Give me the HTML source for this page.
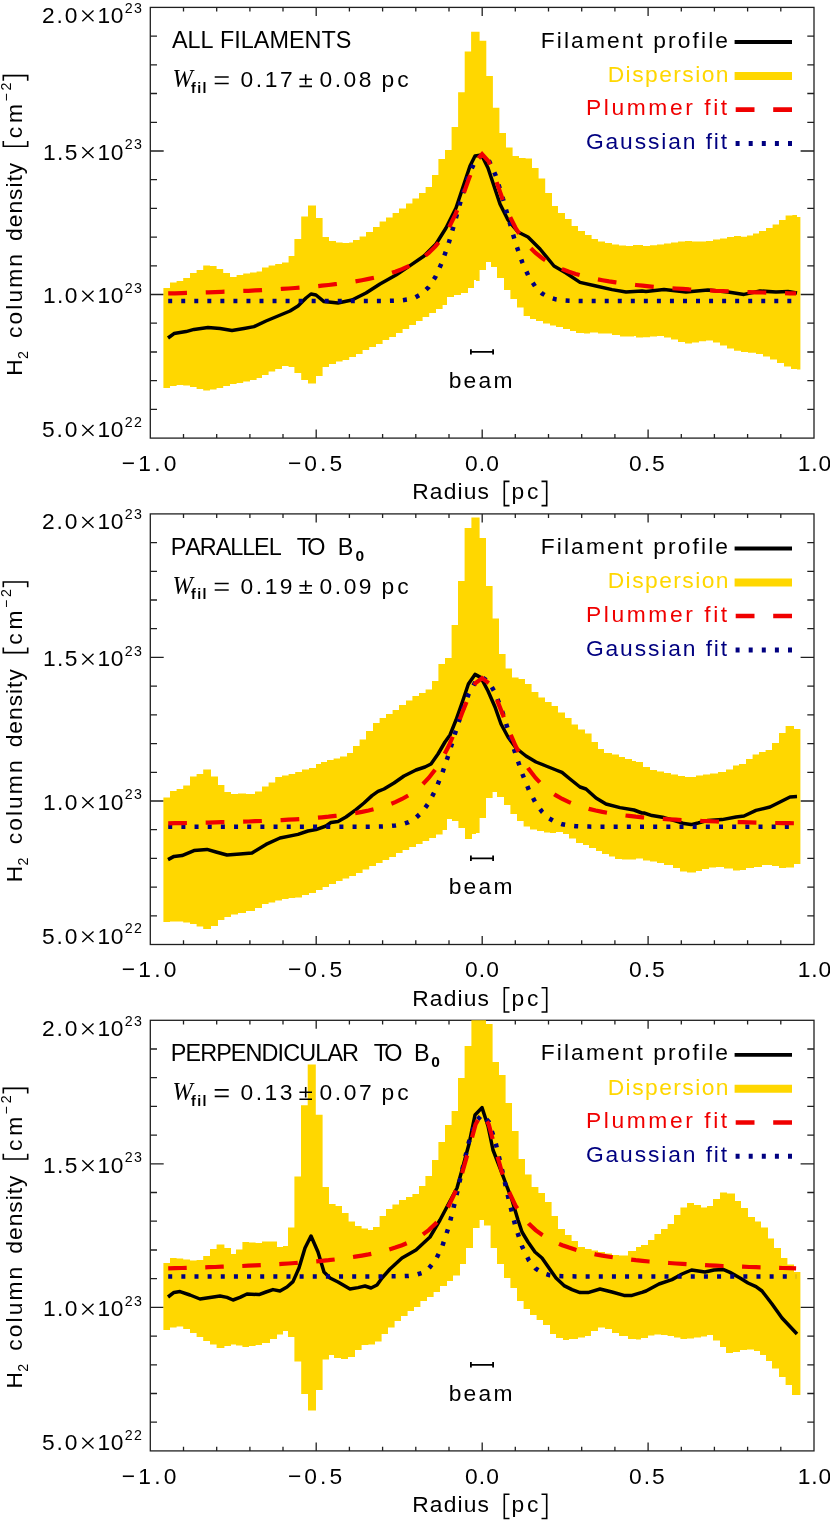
<!DOCTYPE html>
<html><head><meta charset="utf-8"><title>Filament profiles</title>
<style>
html,body{margin:0;padding:0;background:#fff;}
svg{display:block;will-change:transform;}
text{font-family:"Liberation Sans",sans-serif;font-kerning:none;}
.it{font-family:"Liberation Serif",serif;font-style:italic;}
</style></head>
<body>
<svg width="830" height="1521" viewBox="0 0 830 1521">
<rect x="0" y="0" width="830" height="1521" fill="#ffffff"/>
<!-- panel 1 -->
<clipPath id="cp0"><rect x="150.3" y="7.4" width="663.7" height="430.70000000000005"/></clipPath>
<g stroke="#202020" stroke-width="1.3" fill="none">
<rect x="150.3" y="7.4" width="663.7" height="430.70000000000005"/>
<path d="M183.5 438.1v-4.2M183.5 7.4v4.2 M216.7 438.1v-4.2M216.7 7.4v4.2 M249.9 438.1v-4.2M249.9 7.4v4.2 M283.0 438.1v-4.2M283.0 7.4v4.2 M316.2 438.1v-8.5M316.2 7.4v8.5 M349.4 438.1v-4.2M349.4 7.4v4.2 M382.6 438.1v-4.2M382.6 7.4v4.2 M415.8 438.1v-4.2M415.8 7.4v4.2 M449.0 438.1v-4.2M449.0 7.4v4.2 M482.2 438.1v-8.5M482.2 7.4v8.5 M515.3 438.1v-4.2M515.3 7.4v4.2 M548.5 438.1v-4.2M548.5 7.4v4.2 M581.7 438.1v-4.2M581.7 7.4v4.2 M614.9 438.1v-4.2M614.9 7.4v4.2 M648.1 438.1v-8.5M648.1 7.4v8.5 M681.3 438.1v-4.2M681.3 7.4v4.2 M714.4 438.1v-4.2M714.4 7.4v4.2 M747.6 438.1v-4.2M747.6 7.4v4.2 M780.8 438.1v-4.2M780.8 7.4v4.2 M150.3 409.4h6.7M814.0 409.4h-6.7 M150.3 380.7h6.7M814.0 380.7h-6.7 M150.3 352.0h6.7M814.0 352.0h-6.7 M150.3 323.2h6.7M814.0 323.2h-6.7 M150.3 294.5h13.4M814.0 294.5h-13.4 M150.3 265.8h6.7M814.0 265.8h-6.7 M150.3 237.1h6.7M814.0 237.1h-6.7 M150.3 208.4h6.7M814.0 208.4h-6.7 M150.3 179.7h6.7M814.0 179.7h-6.7 M150.3 151.0h13.4M814.0 151.0h-13.4 M150.3 122.3h6.7M814.0 122.3h-6.7 M150.3 93.5h6.7M814.0 93.5h-6.7 M150.3 64.8h6.7M814.0 64.8h-6.7 M150.3 36.1h6.7M814.0 36.1h-6.7"/>
</g>
<g clip-path="url(#cp0)">
<path d="M163.4 288.0 H170.0 V282.4 H176.6 V281.0 H183.2 V278.0 H190.0 V273.0 H196.6 V270.0 H203.2 V265.4 H210.0 V266.0 H216.6 V269.0 H223.2 V273.0 H230.0 V277.0 H236.6 V275.0 H243.2 V273.6 H250.0 V272.4 H256.6 V271.6 H262.0 V267.6 H268.6 V265.6 H275.2 V264.0 H282.0 V262.4 H288.6 V256.0 H294.4 V239.0 H301.2 V216.6 H308.0 V205.6 H316.0 V218.0 H322.6 V237.0 H329.0 V241.0 H336.0 V242.4 H342.6 V243.0 H349.2 V242.4 H353.0 V240.0 H359.6 V236.4 H366.0 V232.0 H373.0 V227.0 H379.6 V221.6 H386.0 V217.6 H392.6 V213.0 H399.0 V208.4 H406.0 V203.6 H412.4 V198.4 H419.0 V193.0 H425.6 V187.0 H432.0 V175.0 H438.4 V159.0 H445.0 V150.0 H451.6 V127.0 H458.1 V92.2 H464.7 V51.5 H471.1 V31.7 H479.6 V40.7 H486.3 V75.9 H492.9 V107.7 H499.4 V133.0 H506.0 V147.6 H512.6 V156.0 H519.0 V158.0 H525.6 V158.4 H532.0 V168.0 H538.6 V178.4 H545.2 V193.0 H552.0 V206.0 H558.0 V213.0 H565.0 V219.0 H571.6 V226.0 H578.0 V231.0 H585.0 V235.0 H591.6 V239.0 H598.0 V241.6 H605.0 V243.0 H612.0 V244.4 H619.0 V245.6 H626.0 V246.0 H633.0 V245.0 H636.0 V245.0 H643.0 V246.0 H650.0 V245.2 H657.0 V244.4 H664.0 V243.6 H671.0 V242.6 H678.0 V241.6 H685.0 V241.0 H692.0 V241.6 H699.0 V241.4 H706.0 V241.0 H713.0 V239.6 H720.0 V238.4 H727.0 V237.0 H734.0 V236.0 H741.0 V236.8 H747.0 V235.6 H753.0 V233.6 H759.0 V231.0 H766.0 V228.0 H772.6 V224.4 H779.0 V220.0 H785.6 V215.6 H792.4 V215.0 H797.0 V217.0 H800.4 V369.6 H797.0 V369.0 H791.0 V366.4 H784.0 V363.0 H777.0 V359.6 H770.0 V356.4 H763.0 V354.0 H756.0 V352.8 H748.0 V352.0 H741.0 V350.8 H734.0 V348.4 H727.0 V345.6 H720.0 V342.4 H713.0 V340.4 H706.0 V341.2 H699.0 V342.4 H692.0 V343.6 H685.0 V342.0 H678.0 V339.6 H671.0 V337.6 H664.0 V336.0 H657.0 V336.4 H650.0 V337.2 H643.0 V337.4 H636.0 V336.0 H634.0 V336.4 H620.0 V335.0 H612.0 V333.6 H598.0 V332.4 H590.0 V333.6 H584.0 V333.0 H576.0 V331.0 H570.0 V329.0 H563.0 V327.0 H556.0 V325.6 H550.0 V323.6 H543.0 V321.0 H536.0 V319.0 H530.0 V316.0 H523.6 V307.6 H517.0 V299.0 H510.4 V290.0 H504.0 V278.0 H497.0 V267.0 H491.0 V262.0 H486.0 V270.0 H479.6 V281.0 H476.0 V280.0 H474.0 V288.0 H468.0 V293.0 H461.0 V295.0 H454.0 V297.0 H447.0 V305.0 H442.6 V309.0 H436.0 V313.0 H429.2 V317.0 H422.6 V321.0 H416.0 V325.0 H409.2 V329.0 H402.6 V333.0 H396.0 V337.0 H389.2 V340.0 H382.6 V344.0 H376.0 V347.0 H369.2 V350.0 H362.6 V354.0 H356.0 V357.0 H349.2 V360.0 H342.6 V361.6 H336.0 V364.0 H329.0 V367.0 H322.6 V376.0 H316.0 V383.6 H308.0 V380.0 H301.2 V373.0 H294.4 V367.0 H288.6 V366.0 H282.0 V369.0 H275.2 V371.6 H268.6 V375.0 H262.0 V378.0 H256.6 V380.0 H250.0 V381.6 H243.2 V383.0 H236.6 V384.0 H230.0 V386.0 H223.2 V388.0 H216.6 V389.6 H210.0 V390.4 H203.2 V389.0 H196.6 V387.0 H190.0 V385.6 H183.2 V385.0 H176.6 V386.0 H170.0 V388.0 H163.4 Z" fill="#FFD700" stroke="none"/>
<polyline points="168.0,338.0 174.0,333.6 186.0,331.6 194.0,329.4 208.0,327.6 220.0,328.4 232.0,330.4 244.0,328.4 254.0,326.6 266.0,321.0 278.0,316.0 290.0,311.0 298.0,306.0 306.0,298.0 311.0,294.0 316.0,295.0 324.0,301.6 338.0,303.0 352.0,300.0 366.0,293.0 380.0,284.0 396.0,275.0 410.0,265.6 424.0,256.0 436.0,244.0 446.0,228.0 456.0,208.0 464.0,184.0 470.0,166.0 475.0,156.0 481.6,155.0 488.0,168.0 494.0,186.0 500.0,204.0 508.0,220.0 518.0,232.0 528.0,237.0 540.0,249.0 554.0,266.0 566.0,273.0 580.0,282.4 596.0,286.0 612.0,289.6 626.0,292.0 642.0,291.0 646.0,291.6 664.0,289.6 686.0,292.0 708.0,290.0 728.0,292.0 744.0,294.4 760.0,291.0 776.0,292.0 788.0,291.4 797.0,293.0" fill="none" stroke="#000" stroke-width="3.5" stroke-linejoin="round"/>
<polyline points="168.2,301.0 174.9,301.0 181.6,301.0 188.3,301.0 194.9,301.0 201.6,301.0 208.3,301.0 215.0,301.0 221.7,301.0 228.3,301.0 235.0,301.0 241.7,301.0 248.4,301.0 255.1,301.0 261.7,301.0 268.4,301.0 275.1,301.0 281.8,301.0 288.4,301.0 295.1,301.0 301.8,301.0 308.5,301.0 315.2,301.0 321.8,301.0 328.5,301.0 335.2,301.0 341.9,301.0 348.6,301.0 355.2,301.0 361.9,301.0 368.6,301.0 375.3,301.0 382.0,301.0 388.6,300.9 395.3,300.7 402.0,300.3 408.7,299.3 415.4,297.3 422.0,293.6 428.7,287.1 435.4,276.9 442.1,262.1 448.8,242.8 455.4,219.9 462.1,196.1 468.8,175.0 475.5,160.3 482.1,155.0 488.8,160.3 495.5,175.0 502.2,196.1 508.9,219.9 515.5,242.8 522.2,262.1 528.9,276.9 535.6,287.1 542.3,293.6 548.9,297.3 555.6,299.3 562.3,300.3 569.0,300.7 575.7,300.9 582.3,301.0 589.0,301.0 595.7,301.0 602.4,301.0 609.1,301.0 615.7,301.0 622.4,301.0 629.1,301.0 635.8,301.0 642.5,301.0 649.1,301.0 655.8,301.0 662.5,301.0 669.2,301.0 675.9,301.0 682.5,301.0 689.2,301.0 695.9,301.0 702.6,301.0 709.2,301.0 715.9,301.0 722.6,301.0 729.3,301.0 736.0,301.0 742.6,301.0 749.3,301.0 756.0,301.0 762.7,301.0 769.4,301.0 776.0,301.0 782.7,301.0 789.4,301.0 796.1,301.0" fill="none" stroke="#000080" stroke-width="4.5" stroke-dasharray="3.983 9.060"/>
<polyline points="168.2,293.4 174.9,293.3 181.6,293.1 188.3,292.9 194.9,292.7 201.6,292.5 208.3,292.3 215.0,292.1 221.7,291.8 228.3,291.6 235.0,291.3 241.7,291.0 248.4,290.8 255.1,290.4 261.7,290.1 268.4,289.7 275.1,289.4 281.8,288.9 288.4,288.5 295.1,288.0 301.8,287.5 308.5,287.0 315.2,286.4 321.8,285.7 328.5,285.0 335.2,284.2 341.9,283.4 348.6,282.4 355.2,281.4 361.9,280.2 368.6,278.9 375.3,277.5 382.0,275.8 388.6,273.9 395.3,271.7 402.0,269.1 408.7,266.1 415.4,262.5 422.0,258.2 428.7,252.9 435.4,246.4 442.1,238.2 448.8,227.8 455.4,214.5 462.1,198.0 468.8,179.0 475.5,161.6 482.1,154.1 488.8,161.6 495.5,179.0 502.2,198.0 508.9,214.5 515.5,227.8 522.2,238.2 528.9,246.4 535.6,252.9 542.3,258.2 548.9,262.5 555.6,266.1 562.3,269.1 569.0,271.7 575.7,273.9 582.3,275.8 589.0,277.5 595.7,278.9 602.4,280.2 609.1,281.4 615.7,282.4 622.4,283.4 629.1,284.2 635.8,285.0 642.5,285.7 649.1,286.4 655.8,287.0 662.5,287.5 669.2,288.0 675.9,288.5 682.5,288.9 689.2,289.4 695.9,289.7 702.6,290.1 709.2,290.4 715.9,290.8 722.6,291.0 729.3,291.3 736.0,291.6 742.6,291.8 749.3,292.1 756.0,292.3 762.7,292.5 769.4,292.7 776.0,292.9 782.7,293.1 789.4,293.3 796.1,293.4" fill="none" stroke="#F00000" stroke-width="4.2" stroke-dasharray="18.780 18.780"/>
</g>
<path d="M470.8 351.9H493.2M470.9 349.2v5.4M493.1 349.2v5.4" stroke="#000" stroke-width="1.8" fill="none"/>
<text x="448.7" y="387.8" font-size="22.8" fill="#000" letter-spacing="2.23">beam</text>
<text x="41.9" y="22.9" font-size="22.8" fill="#000" letter-spacing="1.88">2.0</text>
<path d="M82.3 10.6L93.5 21.3M93.5 10.6L82.3 21.3" stroke="#000" stroke-width="1.35" fill="none"/>
<text x="97.6" y="22.9" font-size="22.8" fill="#000" letter-spacing="0.37">10</text>
<text x="124.7" y="12.6" font-size="14.2" fill="#000" letter-spacing="1.40">23</text>
<text x="43.1" y="159.6" font-size="22.8" fill="#000" letter-spacing="1.33">1.5</text>
<path d="M82.3 147.3L93.5 158.0M93.5 147.3L82.3 158.0" stroke="#000" stroke-width="1.35" fill="none"/>
<text x="97.6" y="159.6" font-size="22.8" fill="#000" letter-spacing="0.37">10</text>
<text x="124.7" y="149.3" font-size="14.2" fill="#000" letter-spacing="1.40">23</text>
<text x="43.1" y="303.1" font-size="22.8" fill="#000" letter-spacing="1.27">1.0</text>
<path d="M82.3 290.8L93.5 301.5M93.5 290.8L82.3 301.5" stroke="#000" stroke-width="1.35" fill="none"/>
<text x="97.6" y="303.1" font-size="22.8" fill="#000" letter-spacing="0.37">10</text>
<text x="124.7" y="292.8" font-size="14.2" fill="#000" letter-spacing="1.40">23</text>
<text x="42.1" y="437.3" font-size="22.8" fill="#000" letter-spacing="1.77">5.0</text>
<path d="M82.3 425.0L93.5 435.7M93.5 425.0L82.3 435.7" stroke="#000" stroke-width="1.35" fill="none"/>
<text x="97.6" y="437.3" font-size="22.8" fill="#000" letter-spacing="0.37">10</text>
<text x="124.7" y="427.0" font-size="14.2" fill="#000" letter-spacing="1.54">22</text>
<text x="121.8" y="470.9" font-size="22.8" fill="#000" letter-spacing="3.22">−1.0</text>
<text x="287.9" y="470.9" font-size="22.8" fill="#000" letter-spacing="3.09">−0.5</text>
<text x="465.1" y="470.9" font-size="22.8" fill="#000" letter-spacing="1.02">0.0</text>
<text x="629.1" y="470.9" font-size="22.8" fill="#000" letter-spacing="1.98">0.5</text>
<text x="797.8" y="470.9" font-size="22.8" fill="#000" letter-spacing="0.82">1.0</text>
<text x="412.2" y="499.4" font-size="22.8" fill="#000" letter-spacing="1.15">Radius</text>
<text x="511.6" y="499.4" font-size="22.8" fill="#000" letter-spacing="2.67">pc</text>
<path d="M509.5 481.4H504.3V505.6H509.5M541.5 481.4H546.7V505.6H541.5" stroke="#000" stroke-width="1.6" fill="none"/>
<g transform="translate(21.9 224.2) rotate(-90)">
<text x="-151.6" y="0.0" font-size="22.8" fill="#000">H</text>
<text x="-134.8" y="6.5" font-size="14.2" fill="#000">2</text>
<text x="-113.7" y="0.0" font-size="22.8" fill="#000" letter-spacing="2.08">column</text>
<text x="-16.7" y="0.0" font-size="22.8" fill="#000" letter-spacing="0.98">density</text>
<text x="85.9" y="0.0" font-size="22.8" fill="#000" letter-spacing="3.86">cm</text>
<text x="122.6" y="-10.6" font-size="14.2" fill="#000" letter-spacing="2.75">−2</text>
<path d="M83.2 -18.6H78.0V5.8H83.2M143.4 -18.6H148.6V5.8H143.4" stroke="#000" stroke-width="1.6" fill="none"/>
</g>
<text x="171.9" y="48.2" font-size="23.400000000000002" fill="#000">ALL FILAMENTS</text>
<text x="172.4" y="87.4" font-size="24.3" fill="#000" class="it">W</text>
<text x="191.1" y="92.8" font-size="14.2" fill="#000" letter-spacing="1.33" font-weight="bold">fil</text>
<path d="M214.7 77.0h14M214.7 83.5h14" stroke="#000" stroke-width="1.7" fill="none"/>
<text x="240.6" y="87.4" font-size="22.8" fill="#000" letter-spacing="2.57">0.17</text>
<path d="M299.4 79.3h12.6M305.7 74.2v10.4M299.4 86.4h12.6" stroke="#000" stroke-width="1.6" fill="none"/>
<text x="319.5" y="87.4" font-size="22.8" fill="#000" letter-spacing="2.52">0.08</text>
<text x="381.5" y="87.4" font-size="22.8" fill="#000" letter-spacing="2.97">pc</text>
<text x="540.8" y="47.5" font-size="22.8" fill="#000" letter-spacing="2.09">Filament profile</text>
<text x="607.7" y="81.6" font-size="22.8" fill="#FFD700" letter-spacing="1.46">Dispersion</text>
<text x="586.0" y="115.3" font-size="22.8" fill="#F00000" letter-spacing="2.59">Plummer fit</text>
<text x="585.9" y="149.0" font-size="22.8" fill="#000080" letter-spacing="1.90">Gaussian fit</text>
<path d="M734.6 42.0H792" stroke="#000" stroke-width="3.8" fill="none"/>
<path d="M734.6 76.0H792" stroke="#FFD700" stroke-width="8" fill="none"/>
<path d="M735.7 109.6H792" stroke="#F00000" stroke-width="4.6" stroke-dasharray="18.8 18.7" fill="none"/>
<path d="M735.6 143.4H792" stroke="#000080" stroke-width="5" stroke-dasharray="4 9.1" fill="none"/>
<!-- panel 2 -->
<clipPath id="cp1"><rect x="150.3" y="513.9" width="663.7" height="430.6"/></clipPath>
<g stroke="#202020" stroke-width="1.3" fill="none">
<rect x="150.3" y="513.9" width="663.7" height="430.6"/>
<path d="M183.5 944.5v-4.2M183.5 513.9v4.2 M216.7 944.5v-4.2M216.7 513.9v4.2 M249.9 944.5v-4.2M249.9 513.9v4.2 M283.0 944.5v-4.2M283.0 513.9v4.2 M316.2 944.5v-8.5M316.2 513.9v8.5 M349.4 944.5v-4.2M349.4 513.9v4.2 M382.6 944.5v-4.2M382.6 513.9v4.2 M415.8 944.5v-4.2M415.8 513.9v4.2 M449.0 944.5v-4.2M449.0 513.9v4.2 M482.2 944.5v-8.5M482.2 513.9v8.5 M515.3 944.5v-4.2M515.3 513.9v4.2 M548.5 944.5v-4.2M548.5 513.9v4.2 M581.7 944.5v-4.2M581.7 513.9v4.2 M614.9 944.5v-4.2M614.9 513.9v4.2 M648.1 944.5v-8.5M648.1 513.9v8.5 M681.3 944.5v-4.2M681.3 513.9v4.2 M714.4 944.5v-4.2M714.4 513.9v4.2 M747.6 944.5v-4.2M747.6 513.9v4.2 M780.8 944.5v-4.2M780.8 513.9v4.2 M150.3 915.8h6.7M814.0 915.8h-6.7 M150.3 887.1h6.7M814.0 887.1h-6.7 M150.3 858.4h6.7M814.0 858.4h-6.7 M150.3 829.7h6.7M814.0 829.7h-6.7 M150.3 801.0h13.4M814.0 801.0h-13.4 M150.3 772.3h6.7M814.0 772.3h-6.7 M150.3 743.6h6.7M814.0 743.6h-6.7 M150.3 714.8h6.7M814.0 714.8h-6.7 M150.3 686.1h6.7M814.0 686.1h-6.7 M150.3 657.4h13.4M814.0 657.4h-13.4 M150.3 628.7h6.7M814.0 628.7h-6.7 M150.3 600.0h6.7M814.0 600.0h-6.7 M150.3 571.3h6.7M814.0 571.3h-6.7 M150.3 542.6h6.7M814.0 542.6h-6.7"/>
</g>
<g clip-path="url(#cp1)">
<path d="M163.4 797.6 H170.0 V791.0 H176.6 V789.0 H183.2 V785.6 H190.0 V776.4 H196.6 V774.0 H203.2 V769.6 H211.0 V776.4 H218.0 V785.0 H224.4 V792.0 H231.0 V794.0 H238.0 V793.4 H246.0 V794.0 H255.0 V791.6 H262.0 V786.4 H268.6 V782.4 H275.2 V777.0 H282.0 V775.6 H288.6 V774.0 H295.2 V772.0 H302.0 V769.6 H309.0 V768.0 H316.0 V764.0 H321.0 V762.0 H327.0 V760.0 H333.6 V758.6 H340.0 V756.6 H347.0 V753.0 H353.0 V746.0 H359.6 V739.4 H366.0 V731.0 H373.0 V723.0 H379.6 V718.0 H386.0 V714.0 H392.6 V710.0 H399.0 V705.0 H406.0 V700.6 H412.4 V696.0 H419.0 V693.0 H425.6 V689.4 H432.0 V681.0 H438.4 V664.0 H445.0 V658.0 H451.6 V625.0 H458.0 V581.0 H464.6 V528.0 H471.4 V517.4 H479.6 V538.0 H486.0 V586.0 H492.6 V618.6 H499.0 V654.0 H505.6 V668.6 H512.0 V677.4 H518.6 V679.0 H525.0 V684.0 H531.6 V692.0 H538.4 V697.4 H545.0 V702.0 H551.6 V706.0 H558.0 V712.4 H565.0 V718.0 H571.6 V724.4 H578.0 V729.6 H585.0 V733.6 H591.6 V742.0 H598.0 V749.0 H604.0 V753.0 H612.0 V754.4 H619.0 V757.0 H625.0 V759.0 H632.0 V761.0 H636.0 V762.0 H643.0 V767.0 H650.0 V770.0 H657.0 V771.6 H664.0 V773.0 H671.0 V774.4 H678.0 V776.0 H685.0 V777.0 H696.0 V775.6 H703.0 V774.4 H710.0 V773.6 H718.0 V772.0 H726.0 V769.6 H733.0 V765.6 H739.0 V764.0 H746.0 V759.0 H752.6 V754.4 H759.0 V752.0 H765.6 V750.0 H772.0 V743.0 H779.0 V733.0 H785.6 V726.0 H794.0 V729.0 H800.4 V864.0 H794.0 V867.6 H786.0 V868.0 H779.0 V866.0 H772.0 V865.0 H762.0 V867.0 H754.0 V868.0 H746.0 V870.0 H740.0 V870.4 H733.0 V868.4 H724.0 V867.0 H716.0 V867.6 H709.0 V869.0 H702.0 V871.0 H696.0 V872.4 H687.0 V871.6 H680.0 V868.0 H673.0 V865.0 H664.0 V863.0 H657.0 V861.6 H650.0 V860.4 H643.0 V858.4 H636.0 V859.6 H622.0 V859.0 H615.0 V856.4 H609.0 V854.0 H602.0 V851.0 H596.0 V848.0 H589.0 V845.0 H583.0 V843.0 H576.0 V838.4 H569.0 V834.0 H563.0 V832.0 H556.0 V833.0 H550.0 V832.4 H544.0 V831.0 H537.0 V829.6 H530.0 V826.4 H523.6 V821.0 H517.0 V814.0 H510.4 V805.0 H504.0 V797.0 H497.0 V792.0 H492.6 V798.0 H486.0 V818.0 H479.6 V833.0 H476.0 V834.0 H472.0 V839.0 H465.0 V828.0 H458.4 V821.0 H452.0 V819.0 H447.0 V830.0 H442.6 V834.4 H436.0 V838.0 H429.2 V841.0 H422.6 V844.0 H416.0 V847.0 H409.2 V850.0 H402.6 V853.0 H396.0 V857.0 H389.2 V860.0 H382.6 V863.0 H376.0 V866.0 H369.2 V869.6 H362.6 V873.0 H356.0 V876.0 H349.2 V878.4 H342.6 V881.0 H336.0 V884.0 H329.0 V887.0 H322.6 V890.0 H316.0 V893.0 H309.0 V895.0 H302.0 V897.6 H295.2 V898.0 H288.6 V899.0 H282.0 V900.4 H275.2 V902.4 H268.6 V904.0 H262.0 V908.0 H255.0 V911.0 H246.0 V913.0 H238.0 V914.4 H231.0 V917.0 H224.4 V920.0 H218.0 V926.0 H211.0 V929.0 H203.2 V926.4 H196.6 V924.0 H190.0 V922.4 H183.2 V921.6 H170.0 V922.0 H163.4 Z" fill="#FFD700" stroke="none"/>
<polyline points="168.0,859.6 174.0,856.4 182.0,855.6 194.0,850.6 207.0,849.4 216.0,852.0 227.0,855.0 240.0,854.0 252.0,853.0 266.0,844.4 280.0,838.0 298.0,834.4 308.0,831.0 316.0,829.6 326.0,826.0 331.0,822.4 338.0,821.6 346.0,817.0 356.0,809.6 364.0,803.0 372.0,795.6 378.0,791.4 384.0,789.0 394.0,783.0 404.0,776.0 416.0,770.0 425.0,767.0 431.0,764.0 438.0,754.0 445.0,742.0 450.0,735.0 456.0,720.0 462.0,703.0 468.4,684.0 475.0,674.4 481.0,677.6 488.0,691.0 495.0,707.0 501.0,724.0 508.0,737.0 516.0,748.0 526.0,756.0 536.0,762.0 546.0,766.0 556.0,770.0 562.0,772.4 570.0,779.0 580.0,787.0 586.0,789.0 596.0,798.0 606.0,804.0 620.0,807.6 634.0,810.0 642.0,813.0 644.0,813.0 652.0,815.6 664.0,817.6 676.0,821.0 684.0,823.6 691.0,824.6 698.0,823.0 708.0,820.4 722.0,819.6 736.0,817.0 744.0,816.0 756.0,810.4 770.0,807.0 780.0,802.0 790.0,797.0 797.0,796.6" fill="none" stroke="#000" stroke-width="3.5" stroke-linejoin="round"/>
<polyline points="168.2,826.7 174.9,826.7 181.6,826.7 188.3,826.7 194.9,826.7 201.6,826.7 208.3,826.7 215.0,826.7 221.7,826.7 228.3,826.7 235.0,826.7 241.7,826.7 248.4,826.7 255.1,826.7 261.7,826.7 268.4,826.7 275.1,826.7 281.8,826.7 288.4,826.7 295.1,826.7 301.8,826.7 308.5,826.7 315.2,826.7 321.8,826.7 328.5,826.7 335.2,826.7 341.9,826.7 348.6,826.7 355.2,826.7 361.9,826.7 368.6,826.7 375.3,826.6 382.0,826.5 388.6,826.2 395.3,825.5 402.0,824.3 408.7,822.1 415.4,818.2 422.0,812.1 428.7,802.9 435.4,790.1 442.1,773.6 448.8,753.9 455.4,732.4 462.1,711.4 468.8,693.7 475.5,681.7 482.1,677.5 488.8,681.7 495.5,693.7 502.2,711.4 508.9,732.4 515.5,753.9 522.2,773.6 528.9,790.1 535.6,802.9 542.3,812.1 548.9,818.2 555.6,822.1 562.3,824.3 569.0,825.5 575.7,826.2 582.3,826.5 589.0,826.6 595.7,826.7 602.4,826.7 609.1,826.7 615.7,826.7 622.4,826.7 629.1,826.7 635.8,826.7 642.5,826.7 649.1,826.7 655.8,826.7 662.5,826.7 669.2,826.7 675.9,826.7 682.5,826.7 689.2,826.7 695.9,826.7 702.6,826.7 709.2,826.7 715.9,826.7 722.6,826.7 729.3,826.7 736.0,826.7 742.6,826.7 749.3,826.7 756.0,826.7 762.7,826.7 769.4,826.7 776.0,826.7 782.7,826.7 789.4,826.7 796.1,826.7" fill="none" stroke="#000080" stroke-width="4.5" stroke-dasharray="4.021 9.147"/>
<polyline points="168.2,823.3 174.9,823.2 181.6,823.1 188.3,823.0 194.9,822.8 201.6,822.7 208.3,822.6 215.0,822.4 221.7,822.2 228.3,822.1 235.0,821.9 241.7,821.7 248.4,821.5 255.1,821.2 261.7,821.0 268.4,820.7 275.1,820.4 281.8,820.1 288.4,819.7 295.1,819.3 301.8,818.9 308.5,818.4 315.2,817.9 321.8,817.3 328.5,816.7 335.2,815.9 341.9,815.1 348.6,814.2 355.2,813.1 361.9,811.9 368.6,810.5 375.3,808.9 382.0,807.0 388.6,804.8 395.3,802.1 402.0,799.0 408.7,795.2 415.4,790.6 422.0,785.0 428.7,778.0 435.4,769.4 442.1,758.8 448.8,745.8 455.4,730.4 462.1,713.1 468.8,696.2 475.5,683.1 482.1,678.1 488.8,683.1 495.5,696.2 502.2,713.1 508.9,730.4 515.5,745.8 522.2,758.8 528.9,769.4 535.6,778.0 542.3,785.0 548.9,790.6 555.6,795.2 562.3,799.0 569.0,802.1 575.7,804.8 582.3,807.0 589.0,808.9 595.7,810.5 602.4,811.9 609.1,813.1 615.7,814.2 622.4,815.1 629.1,815.9 635.8,816.7 642.5,817.3 649.1,817.9 655.8,818.4 662.5,818.9 669.2,819.3 675.9,819.7 682.5,820.1 689.2,820.4 695.9,820.7 702.6,821.0 709.2,821.2 715.9,821.5 722.6,821.7 729.3,821.9 736.0,822.1 742.6,822.2 749.3,822.4 756.0,822.6 762.7,822.7 769.4,822.8 776.0,823.0 782.7,823.1 789.4,823.2 796.1,823.3" fill="none" stroke="#F00000" stroke-width="4.2" stroke-dasharray="18.739 18.739"/>
</g>
<path d="M470.8 858.3H493.2M470.9 855.6v5.4M493.1 855.6v5.4" stroke="#000" stroke-width="1.8" fill="none"/>
<text x="448.7" y="894.2" font-size="22.8" fill="#000" letter-spacing="2.23">beam</text>
<text x="41.9" y="529.4" font-size="22.8" fill="#000" letter-spacing="1.88">2.0</text>
<path d="M82.3 517.1L93.5 527.8M93.5 517.1L82.3 527.8" stroke="#000" stroke-width="1.35" fill="none"/>
<text x="97.6" y="529.4" font-size="22.8" fill="#000" letter-spacing="0.37">10</text>
<text x="124.7" y="519.1" font-size="14.2" fill="#000" letter-spacing="1.40">23</text>
<text x="43.1" y="666.0" font-size="22.8" fill="#000" letter-spacing="1.33">1.5</text>
<path d="M82.3 653.8L93.5 664.4M93.5 653.8L82.3 664.4" stroke="#000" stroke-width="1.35" fill="none"/>
<text x="97.6" y="666.0" font-size="22.8" fill="#000" letter-spacing="0.37">10</text>
<text x="124.7" y="655.8" font-size="14.2" fill="#000" letter-spacing="1.40">23</text>
<text x="43.1" y="809.5" font-size="22.8" fill="#000" letter-spacing="1.27">1.0</text>
<path d="M82.3 797.2L93.5 807.9M93.5 797.2L82.3 807.9" stroke="#000" stroke-width="1.35" fill="none"/>
<text x="97.6" y="809.5" font-size="22.8" fill="#000" letter-spacing="0.37">10</text>
<text x="124.7" y="799.2" font-size="14.2" fill="#000" letter-spacing="1.40">23</text>
<text x="42.1" y="943.7" font-size="22.8" fill="#000" letter-spacing="1.77">5.0</text>
<path d="M82.3 931.4L93.5 942.1M93.5 931.4L82.3 942.1" stroke="#000" stroke-width="1.35" fill="none"/>
<text x="97.6" y="943.7" font-size="22.8" fill="#000" letter-spacing="0.37">10</text>
<text x="124.7" y="933.4" font-size="14.2" fill="#000" letter-spacing="1.54">22</text>
<text x="121.8" y="977.3" font-size="22.8" fill="#000" letter-spacing="3.22">−1.0</text>
<text x="287.9" y="977.3" font-size="22.8" fill="#000" letter-spacing="3.09">−0.5</text>
<text x="465.1" y="977.3" font-size="22.8" fill="#000" letter-spacing="1.02">0.0</text>
<text x="629.1" y="977.3" font-size="22.8" fill="#000" letter-spacing="1.98">0.5</text>
<text x="797.8" y="977.3" font-size="22.8" fill="#000" letter-spacing="0.82">1.0</text>
<text x="412.2" y="1005.8" font-size="22.8" fill="#000" letter-spacing="1.15">Radius</text>
<text x="511.6" y="1005.8" font-size="22.8" fill="#000" letter-spacing="2.67">pc</text>
<path d="M509.5 987.8H504.3V1012.0H509.5M541.5 987.8H546.7V1012.0H541.5" stroke="#000" stroke-width="1.6" fill="none"/>
<g transform="translate(21.9 730.6) rotate(-90)">
<text x="-151.6" y="0.0" font-size="22.8" fill="#000">H</text>
<text x="-134.8" y="6.5" font-size="14.2" fill="#000">2</text>
<text x="-113.7" y="0.0" font-size="22.8" fill="#000" letter-spacing="2.08">column</text>
<text x="-16.7" y="0.0" font-size="22.8" fill="#000" letter-spacing="0.98">density</text>
<text x="85.9" y="0.0" font-size="22.8" fill="#000" letter-spacing="3.86">cm</text>
<text x="122.6" y="-10.6" font-size="14.2" fill="#000" letter-spacing="2.75">−2</text>
<path d="M83.2 -18.6H78.0V5.8H83.2M143.4 -18.6H148.6V5.8H143.4" stroke="#000" stroke-width="1.6" fill="none"/>
</g>
<text x="170.7" y="554.6" font-size="23.400000000000002" fill="#000" letter-spacing="-1.05">PARALLEL</text>
<text x="296.8" y="554.6" font-size="23.400000000000002" fill="#000" letter-spacing="-3.81">TO</text>
<text x="337.7" y="554.6" font-size="23.400000000000002" fill="#000">B</text>
<text x="355.6" y="560.6" font-size="15.5" fill="#000" font-weight="bold">0</text>
<text x="172.4" y="593.9" font-size="24.3" fill="#000" class="it">W</text>
<text x="191.1" y="599.2" font-size="14.2" fill="#000" letter-spacing="1.33" font-weight="bold">fil</text>
<path d="M214.7 583.5h14M214.7 590.0h14" stroke="#000" stroke-width="1.7" fill="none"/>
<text x="240.6" y="593.9" font-size="22.8" fill="#000" letter-spacing="2.53">0.19</text>
<path d="M299.4 585.8h12.6M305.7 580.6v10.4M299.4 592.9h12.6" stroke="#000" stroke-width="1.6" fill="none"/>
<text x="319.5" y="593.9" font-size="22.8" fill="#000" letter-spacing="2.56">0.09</text>
<text x="381.5" y="593.9" font-size="22.8" fill="#000" letter-spacing="2.97">pc</text>
<text x="540.8" y="554.0" font-size="22.8" fill="#000" letter-spacing="2.09">Filament profile</text>
<text x="607.7" y="588.0" font-size="22.8" fill="#FFD700" letter-spacing="1.46">Dispersion</text>
<text x="586.0" y="621.8" font-size="22.8" fill="#F00000" letter-spacing="2.59">Plummer fit</text>
<text x="585.9" y="655.5" font-size="22.8" fill="#000080" letter-spacing="1.90">Gaussian fit</text>
<path d="M734.6 548.5H792" stroke="#000" stroke-width="3.8" fill="none"/>
<path d="M734.6 582.5H792" stroke="#FFD700" stroke-width="8" fill="none"/>
<path d="M735.7 616.0H792" stroke="#F00000" stroke-width="4.6" stroke-dasharray="18.8 18.7" fill="none"/>
<path d="M735.6 649.9H792" stroke="#000080" stroke-width="5" stroke-dasharray="4 9.1" fill="none"/>
<!-- panel 3 -->
<clipPath id="cp2"><rect x="150.3" y="1020.3" width="663.7" height="430.60000000000014"/></clipPath>
<g stroke="#202020" stroke-width="1.3" fill="none">
<rect x="150.3" y="1020.3" width="663.7" height="430.60000000000014"/>
<path d="M183.5 1450.9v-4.2M183.5 1020.3v4.2 M216.7 1450.9v-4.2M216.7 1020.3v4.2 M249.9 1450.9v-4.2M249.9 1020.3v4.2 M283.0 1450.9v-4.2M283.0 1020.3v4.2 M316.2 1450.9v-8.5M316.2 1020.3v8.5 M349.4 1450.9v-4.2M349.4 1020.3v4.2 M382.6 1450.9v-4.2M382.6 1020.3v4.2 M415.8 1450.9v-4.2M415.8 1020.3v4.2 M449.0 1450.9v-4.2M449.0 1020.3v4.2 M482.2 1450.9v-8.5M482.2 1020.3v8.5 M515.3 1450.9v-4.2M515.3 1020.3v4.2 M548.5 1450.9v-4.2M548.5 1020.3v4.2 M581.7 1450.9v-4.2M581.7 1020.3v4.2 M614.9 1450.9v-4.2M614.9 1020.3v4.2 M648.1 1450.9v-8.5M648.1 1020.3v8.5 M681.3 1450.9v-4.2M681.3 1020.3v4.2 M714.4 1450.9v-4.2M714.4 1020.3v4.2 M747.6 1450.9v-4.2M747.6 1020.3v4.2 M780.8 1450.9v-4.2M780.8 1020.3v4.2 M150.3 1422.2h6.7M814.0 1422.2h-6.7 M150.3 1393.5h6.7M814.0 1393.5h-6.7 M150.3 1364.8h6.7M814.0 1364.8h-6.7 M150.3 1336.1h6.7M814.0 1336.1h-6.7 M150.3 1307.4h13.4M814.0 1307.4h-13.4 M150.3 1278.7h6.7M814.0 1278.7h-6.7 M150.3 1250.0h6.7M814.0 1250.0h-6.7 M150.3 1221.2h6.7M814.0 1221.2h-6.7 M150.3 1192.5h6.7M814.0 1192.5h-6.7 M150.3 1163.8h13.4M814.0 1163.8h-13.4 M150.3 1135.1h6.7M814.0 1135.1h-6.7 M150.3 1106.4h6.7M814.0 1106.4h-6.7 M150.3 1077.7h6.7M814.0 1077.7h-6.7 M150.3 1049.0h6.7M814.0 1049.0h-6.7"/>
</g>
<g clip-path="url(#cp2)">
<path d="M163.4 1263.0 H170.0 V1258.0 H176.6 V1258.6 H183.2 V1259.6 H190.0 V1260.4 H196.6 V1260.0 H203.2 V1256.0 H210.0 V1249.0 H216.6 V1244.4 H224.4 V1248.0 H231.0 V1254.0 H236.0 V1249.6 H242.4 V1242.0 H249.0 V1242.4 H255.6 V1243.0 H262.0 V1241.6 H270.0 V1241.4 H277.0 V1247.0 H283.0 V1246.0 H288.0 V1227.4 H294.4 V1176.4 H301.0 V1105.2 H307.7 V1064.6 H315.8 V1114.8 H322.6 V1187.0 H329.0 V1204.0 H335.6 V1206.0 H342.0 V1213.0 H348.6 V1221.6 H355.0 V1226.0 H361.6 V1228.4 H368.0 V1230.0 H373.0 V1227.0 H379.6 V1216.0 H386.0 V1209.0 H392.4 V1204.4 H399.0 V1200.0 H406.0 V1197.0 H412.4 V1194.0 H419.0 V1186.0 H425.4 V1176.0 H432.0 V1160.0 H438.4 V1142.0 H445.0 V1125.0 H451.6 V1111.0 H458.0 V1078.0 H464.6 V1046.0 H471.4 V1014.0 H486.0 V1024.0 H492.6 V1062.0 H499.0 V1075.0 H505.6 V1103.0 H512.0 V1131.0 H518.6 V1159.0 H525.0 V1174.4 H531.6 V1187.0 H538.4 V1193.0 H545.0 V1202.0 H551.6 V1216.0 H558.0 V1229.0 H565.0 V1235.0 H571.6 V1241.0 H578.0 V1247.0 H585.0 V1249.0 H591.6 V1250.4 H598.0 V1252.0 H605.0 V1253.6 H612.0 V1255.0 H619.0 V1255.6 H628.0 V1251.0 H636.0 V1247.0 H641.0 V1245.0 H648.0 V1240.0 H654.4 V1234.0 H661.0 V1229.0 H667.6 V1224.0 H674.0 V1215.0 H680.4 V1207.6 H687.0 V1203.0 H694.0 V1205.0 H701.0 V1207.6 H707.0 V1206.0 H713.0 V1199.0 H720.0 V1192.4 H727.0 V1193.6 H735.0 V1201.0 H741.0 V1208.0 H748.0 V1217.0 H755.0 V1221.6 H761.0 V1227.6 H768.0 V1238.4 H774.0 V1248.0 H781.0 V1258.0 H787.4 V1264.4 H794.0 V1272.0 H800.4 V1395.0 H792.0 V1385.0 H785.6 V1377.0 H779.0 V1368.4 H772.0 V1361.0 H766.0 V1355.0 H760.0 V1351.0 H754.0 V1349.6 H747.0 V1350.0 H740.0 V1352.0 H733.0 V1353.0 H726.0 V1347.0 H720.0 V1340.4 H713.0 V1335.0 H707.0 V1336.4 H701.0 V1337.6 H694.0 V1338.4 H687.0 V1339.0 H680.4 V1337.6 H674.0 V1336.0 H667.6 V1335.0 H661.0 V1334.4 H654.4 V1335.6 H648.0 V1338.0 H641.0 V1339.6 H636.0 V1339.0 H628.0 V1336.0 H619.0 V1333.0 H612.0 V1329.0 H605.0 V1327.6 H598.0 V1331.0 H591.0 V1336.0 H585.0 V1337.6 H578.0 V1339.0 H569.0 V1340.0 H563.0 V1338.0 H556.0 V1334.0 H550.0 V1325.0 H543.0 V1320.0 H536.6 V1315.0 H530.0 V1309.0 H523.6 V1301.0 H517.0 V1288.0 H510.4 V1278.0 H504.0 V1264.0 H497.0 V1248.0 H490.6 V1225.6 H484.0 V1220.0 H479.6 V1228.0 H476.0 V1228.0 H473.0 V1248.0 H466.0 V1264.0 H460.0 V1275.6 H453.0 V1281.0 H447.0 V1286.0 H440.0 V1292.0 H433.6 V1297.0 H427.0 V1301.0 H420.4 V1307.0 H414.0 V1311.0 H407.6 V1316.0 H401.0 V1321.0 H394.6 V1327.6 H388.0 V1334.0 H381.6 V1341.6 H375.0 V1344.4 H368.4 V1345.0 H361.6 V1350.0 H355.0 V1357.0 H348.0 V1359.0 H341.0 V1358.0 H334.0 V1355.0 H329.0 V1359.6 H322.6 V1390.0 H316.0 V1410.4 H308.0 V1394.0 H301.2 V1361.6 H294.4 V1337.0 H288.0 V1331.0 H283.0 V1334.4 H277.0 V1339.0 H270.0 V1343.0 H262.0 V1345.0 H255.6 V1346.0 H249.0 V1347.0 H242.4 V1345.6 H236.0 V1344.4 H231.0 V1346.0 H224.4 V1348.0 H216.6 V1344.4 H210.0 V1341.0 H203.2 V1337.0 H196.6 V1333.0 H190.0 V1329.0 H183.2 V1326.4 H176.6 V1327.6 H170.0 V1330.0 H163.4 Z" fill="#FFD700" stroke="none"/>
<polyline points="168.0,1297.0 174.0,1292.4 180.0,1291.6 190.0,1295.0 200.0,1299.0 210.0,1297.6 220.0,1296.0 227.0,1297.4 233.0,1300.0 240.0,1297.4 247.0,1294.0 259.0,1294.6 266.0,1292.0 273.0,1289.6 280.0,1291.0 287.0,1287.0 293.0,1281.6 299.0,1268.0 305.0,1248.0 311.0,1236.0 318.0,1252.0 324.0,1272.0 330.0,1278.0 338.0,1282.0 350.0,1289.0 358.0,1287.6 365.0,1286.0 371.0,1288.0 377.0,1285.0 382.0,1278.0 390.0,1269.0 402.0,1258.0 416.0,1250.0 430.0,1237.0 440.0,1220.0 449.0,1203.0 457.0,1188.0 462.0,1170.0 469.0,1144.0 475.0,1115.0 482.0,1107.6 488.0,1126.0 493.0,1150.0 500.0,1168.0 506.0,1184.0 512.0,1200.0 518.0,1220.0 522.0,1232.0 528.0,1242.0 535.0,1252.0 542.0,1258.0 549.0,1268.0 556.0,1278.0 564.0,1285.6 572.0,1289.6 580.0,1292.6 588.0,1292.6 600.0,1289.0 612.0,1292.0 624.0,1295.4 632.0,1295.4 642.0,1292.4 646.0,1291.0 659.0,1284.0 672.0,1279.6 682.0,1274.0 691.6,1270.0 705.0,1272.0 714.0,1270.0 723.0,1269.4 730.0,1272.4 740.0,1278.0 748.0,1283.0 756.0,1286.6 762.0,1291.0 772.0,1304.0 782.0,1318.0 797.0,1334.0" fill="none" stroke="#000" stroke-width="3.5" stroke-linejoin="round"/>
<polyline points="168.2,1276.4 174.9,1276.4 181.6,1276.4 188.3,1276.4 194.9,1276.4 201.6,1276.4 208.3,1276.4 215.0,1276.4 221.7,1276.4 228.3,1276.4 235.0,1276.4 241.7,1276.4 248.4,1276.4 255.1,1276.4 261.7,1276.4 268.4,1276.4 275.1,1276.4 281.8,1276.4 288.4,1276.4 295.1,1276.4 301.8,1276.4 308.5,1276.4 315.2,1276.4 321.8,1276.4 328.5,1276.4 335.2,1276.4 341.9,1276.4 348.6,1276.4 355.2,1276.4 361.9,1276.4 368.6,1276.4 375.3,1276.4 382.0,1276.4 388.6,1276.4 395.3,1276.3 402.0,1276.2 408.7,1275.9 415.4,1275.0 422.0,1272.9 428.7,1268.5 435.4,1260.4 442.1,1246.8 448.8,1226.6 455.4,1200.3 462.1,1170.5 468.8,1142.3 475.5,1122.0 482.1,1114.5 488.8,1122.0 495.5,1142.3 502.2,1170.5 508.9,1200.3 515.5,1226.6 522.2,1246.8 528.9,1260.4 535.6,1268.5 542.3,1272.9 548.9,1275.0 555.6,1275.9 562.3,1276.2 569.0,1276.3 575.7,1276.4 582.3,1276.4 589.0,1276.4 595.7,1276.4 602.4,1276.4 609.1,1276.4 615.7,1276.4 622.4,1276.4 629.1,1276.4 635.8,1276.4 642.5,1276.4 649.1,1276.4 655.8,1276.4 662.5,1276.4 669.2,1276.4 675.9,1276.4 682.5,1276.4 689.2,1276.4 695.9,1276.4 702.6,1276.4 709.2,1276.4 715.9,1276.4 722.6,1276.4 729.3,1276.4 736.0,1276.4 742.6,1276.4 749.3,1276.4 756.0,1276.4 762.7,1276.4 769.4,1276.4 776.0,1276.4 782.7,1276.4 789.4,1276.4 796.1,1276.4" fill="none" stroke="#000080" stroke-width="4.5" stroke-dasharray="4.013 9.129"/>
<polyline points="168.2,1268.3 174.9,1268.1 181.6,1268.0 188.3,1267.8 194.9,1267.6 201.6,1267.4 208.3,1267.2 215.0,1267.0 221.7,1266.7 228.3,1266.5 235.0,1266.2 241.7,1266.0 248.4,1265.7 255.1,1265.4 261.7,1265.0 268.4,1264.7 275.1,1264.3 281.8,1263.9 288.4,1263.5 295.1,1263.0 301.8,1262.6 308.5,1262.0 315.2,1261.5 321.8,1260.8 328.5,1260.2 335.2,1259.4 341.9,1258.6 348.6,1257.7 355.2,1256.7 361.9,1255.6 368.6,1254.4 375.3,1253.0 382.0,1251.5 388.6,1249.7 395.3,1247.6 402.0,1245.2 408.7,1242.4 415.4,1239.1 422.0,1235.0 428.7,1230.1 435.4,1223.9 442.1,1215.9 448.8,1205.6 455.4,1191.7 462.1,1173.2 468.8,1149.5 475.5,1124.6 482.1,1112.6 488.8,1124.6 495.5,1149.5 502.2,1173.2 508.9,1191.7 515.5,1205.6 522.2,1215.9 528.9,1223.9 535.6,1230.1 542.3,1235.0 548.9,1239.1 555.6,1242.4 562.3,1245.2 569.0,1247.6 575.7,1249.7 582.3,1251.5 589.0,1253.0 595.7,1254.4 602.4,1255.6 609.1,1256.7 615.7,1257.7 622.4,1258.6 629.1,1259.4 635.8,1260.2 642.5,1260.8 649.1,1261.5 655.8,1262.0 662.5,1262.6 669.2,1263.0 675.9,1263.5 682.5,1263.9 689.2,1264.3 695.9,1264.7 702.6,1265.0 709.2,1265.4 715.9,1265.7 722.6,1266.0 729.3,1266.2 736.0,1266.5 742.6,1266.7 749.3,1267.0 756.0,1267.2 762.7,1267.4 769.4,1267.6 776.0,1267.8 782.7,1268.0 789.4,1268.1 796.1,1268.3" fill="none" stroke="#F00000" stroke-width="4.2" stroke-dasharray="18.529 18.529"/>
</g>
<path d="M470.8 1364.8H493.2M470.9 1362.0v5.4M493.1 1362.0v5.4" stroke="#000" stroke-width="1.8" fill="none"/>
<text x="448.7" y="1400.7" font-size="22.8" fill="#000" letter-spacing="2.23">beam</text>
<text x="41.9" y="1035.8" font-size="22.8" fill="#000" letter-spacing="1.88">2.0</text>
<path d="M82.3 1023.5L93.5 1034.2M93.5 1023.5L82.3 1034.2" stroke="#000" stroke-width="1.35" fill="none"/>
<text x="97.6" y="1035.8" font-size="22.8" fill="#000" letter-spacing="0.37">10</text>
<text x="124.7" y="1025.5" font-size="14.2" fill="#000" letter-spacing="1.40">23</text>
<text x="43.1" y="1172.5" font-size="22.8" fill="#000" letter-spacing="1.33">1.5</text>
<path d="M82.3 1160.2L93.5 1170.9M93.5 1160.2L82.3 1170.9" stroke="#000" stroke-width="1.35" fill="none"/>
<text x="97.6" y="1172.5" font-size="22.8" fill="#000" letter-spacing="0.37">10</text>
<text x="124.7" y="1162.2" font-size="14.2" fill="#000" letter-spacing="1.40">23</text>
<text x="43.1" y="1316.0" font-size="22.8" fill="#000" letter-spacing="1.27">1.0</text>
<path d="M82.3 1303.7L93.5 1314.4M93.5 1303.7L82.3 1314.4" stroke="#000" stroke-width="1.35" fill="none"/>
<text x="97.6" y="1316.0" font-size="22.8" fill="#000" letter-spacing="0.37">10</text>
<text x="124.7" y="1305.7" font-size="14.2" fill="#000" letter-spacing="1.40">23</text>
<text x="42.1" y="1450.1" font-size="22.8" fill="#000" letter-spacing="1.77">5.0</text>
<path d="M82.3 1437.8L93.5 1448.5M93.5 1437.8L82.3 1448.5" stroke="#000" stroke-width="1.35" fill="none"/>
<text x="97.6" y="1450.1" font-size="22.8" fill="#000" letter-spacing="0.37">10</text>
<text x="124.7" y="1439.8" font-size="14.2" fill="#000" letter-spacing="1.54">22</text>
<text x="121.8" y="1483.8" font-size="22.8" fill="#000" letter-spacing="3.22">−1.0</text>
<text x="287.9" y="1483.8" font-size="22.8" fill="#000" letter-spacing="3.09">−0.5</text>
<text x="465.1" y="1483.8" font-size="22.8" fill="#000" letter-spacing="1.02">0.0</text>
<text x="629.1" y="1483.8" font-size="22.8" fill="#000" letter-spacing="1.98">0.5</text>
<text x="797.8" y="1483.8" font-size="22.8" fill="#000" letter-spacing="0.82">1.0</text>
<text x="412.2" y="1512.2" font-size="22.8" fill="#000" letter-spacing="1.15">Radius</text>
<text x="511.6" y="1512.2" font-size="22.8" fill="#000" letter-spacing="2.67">pc</text>
<path d="M509.5 1494.2H504.3V1518.5H509.5M541.5 1494.2H546.7V1518.5H541.5" stroke="#000" stroke-width="1.6" fill="none"/>
<g transform="translate(21.9 1237.0) rotate(-90)">
<text x="-151.6" y="0.0" font-size="22.8" fill="#000">H</text>
<text x="-134.8" y="6.5" font-size="14.2" fill="#000">2</text>
<text x="-113.7" y="0.0" font-size="22.8" fill="#000" letter-spacing="2.08">column</text>
<text x="-16.7" y="0.0" font-size="22.8" fill="#000" letter-spacing="0.98">density</text>
<text x="85.9" y="0.0" font-size="22.8" fill="#000" letter-spacing="3.86">cm</text>
<text x="122.6" y="-10.6" font-size="14.2" fill="#000" letter-spacing="2.75">−2</text>
<path d="M83.2 -18.6H78.0V5.8H83.2M143.4 -18.6H148.6V5.8H143.4" stroke="#000" stroke-width="1.6" fill="none"/>
</g>
<text x="170.7" y="1061.0" font-size="23.400000000000002" fill="#000" letter-spacing="-0.88">PERPENDICULAR</text>
<text x="373.8" y="1061.0" font-size="23.400000000000002" fill="#000" letter-spacing="-3.81">TO</text>
<text x="414.0" y="1061.0" font-size="23.400000000000002" fill="#000">B</text>
<text x="431.2" y="1067.0" font-size="15.5" fill="#000" font-weight="bold">0</text>
<text x="172.4" y="1100.2" font-size="24.3" fill="#000" class="it">W</text>
<text x="191.1" y="1105.7" font-size="14.2" fill="#000" letter-spacing="1.33" font-weight="bold">fil</text>
<path d="M214.7 1089.8h14M214.7 1096.3h14" stroke="#000" stroke-width="1.7" fill="none"/>
<text x="240.6" y="1100.2" font-size="22.8" fill="#000" letter-spacing="2.49">0.13</text>
<path d="M299.4 1092.2h12.6M305.7 1087.0v10.4M299.4 1099.2h12.6" stroke="#000" stroke-width="1.6" fill="none"/>
<text x="319.5" y="1100.2" font-size="22.8" fill="#000" letter-spacing="2.60">0.07</text>
<text x="381.5" y="1100.2" font-size="22.8" fill="#000" letter-spacing="2.97">pc</text>
<text x="540.8" y="1060.3" font-size="22.8" fill="#000" letter-spacing="2.09">Filament profile</text>
<text x="607.7" y="1094.5" font-size="22.8" fill="#FFD700" letter-spacing="1.46">Dispersion</text>
<text x="586.0" y="1128.2" font-size="22.8" fill="#F00000" letter-spacing="2.59">Plummer fit</text>
<text x="585.9" y="1161.8" font-size="22.8" fill="#000080" letter-spacing="1.90">Gaussian fit</text>
<path d="M734.6 1054.8H792" stroke="#000" stroke-width="3.8" fill="none"/>
<path d="M734.6 1088.8H792" stroke="#FFD700" stroke-width="8" fill="none"/>
<path d="M735.7 1122.5H792" stroke="#F00000" stroke-width="4.6" stroke-dasharray="18.8 18.7" fill="none"/>
<path d="M735.6 1156.2H792" stroke="#000080" stroke-width="5" stroke-dasharray="4 9.1" fill="none"/>
</svg>
</body></html>
